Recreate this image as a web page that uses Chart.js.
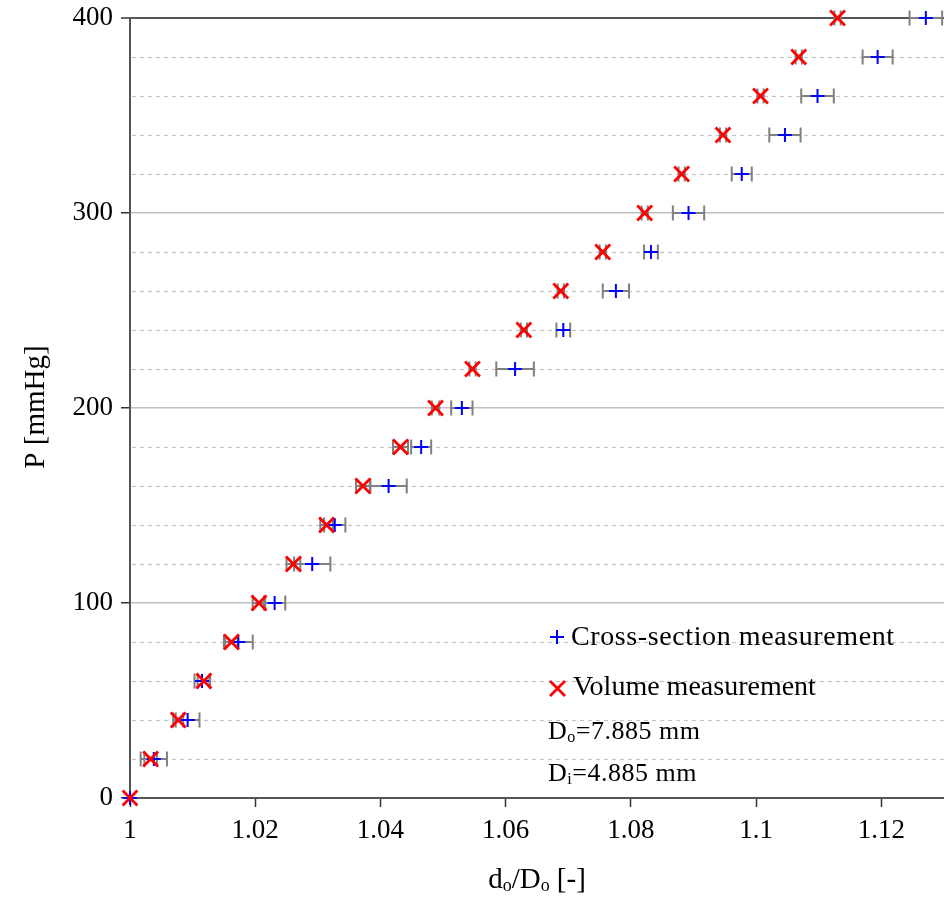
<!DOCTYPE html>
<html>
<head>
<meta charset="utf-8">
<script src="https://cdn.jsdelivr.net/npm/chart.js@4.4.1/dist/chart.umd.min.js"></script>
<style>
  html, body { margin: 0; padding: 0; background: #ffffff; }
  #wrap { width: 944px; height: 901px; }
</style>
</head>
<body>
<div id="wrap"><canvas id="c" width="944" height="901"></canvas></div>
<script>
// ---- data ----
const pressure = [0, 20, 40, 60, 80, 100, 120, 140, 160, 180, 200, 220, 240, 260, 280, 300, 320, 340, 360, 380, 400];
const crossSection = [1.0000, 1.0038, 1.0092, 1.0115, 1.0173, 1.0231, 1.0291, 1.0327, 1.0413, 1.0465, 1.0530,
                      1.0615, 1.0692, 1.0776, 1.0832, 1.0892, 1.0977, 1.1046, 1.1098, 1.1194, 1.1271];
const crossSectionErr = [0, 0.0021, 0.0019, 0.0012, 0.0023, 0.0017, 0.0029, 0.0017, 0.0029, 0.0016, 0.0017,
                         0.0030, 0.0011, 0.0021, 0.0011, 0.0025, 0.0016, 0.0025, 0.0026, 0.0024, 0.0026];
const volume = [1.0000, 1.0033, 1.0077, 1.0118, 1.0162, 1.0206, 1.0261, 1.0314, 1.0372, 1.0432, 1.0488,
                1.0547, 1.0629, 1.0688, 1.0755, 1.0822, 1.0881, 1.0947, 1.1007, 1.1068, 1.1130];
const volumeErr = [0, 0.0010, 0.0008, 0.0010, 0.0010, 0.0010, 0.0011, 0.0010, 0.0011, 0.0012, 0.0006,
                   0.0005, 0.0005, 0.0005, 0.0005, 0.0005, 0.0005, 0.0005, 0.0005, 0.0005, 0.0005];
const xTickStep = 0.02;
const yMajorTicks = [0, 100, 200, 300, 400];
const yMinorTicks = [20, 40, 60, 80, 120, 140, 160, 180, 220, 240, 260, 280, 320, 340, 360, 380];
const legendLabels = ['Cross-section measurement', 'Volume measurement'];
const noteLines = [
  [{t: 'D'}, {t: 'o', sub: true}, {t: '=7.885 mm'}],
  [{t: 'D'}, {t: 'i', sub: true}, {t: '=4.885 mm'}]
];
const xTitle = [{t: 'd'}, {t: 'o', sub: true}, {t: '/D'}, {t: 'o', sub: true}, {t: ' [-]'}];
const yTitle = 'P [mmHg]';

const FONT = "'Liberation Serif', 'Times New Roman', serif";
const BLUE = '#0000ff';
const RED = '#ff0000';
const GREY = '#808080';

function richWidth(ctx, parts, size) {
  let w = 0;
  for (const p of parts) {
    ctx.font = (p.sub ? size * 0.62 : size) + 'px ' + FONT;
    w += ctx.measureText(p.t).width;
  }
  return w;
}
function drawRich(ctx, parts, x, y, size) {
  let cx = x;
  ctx.textAlign = 'left';
  ctx.textBaseline = 'alphabetic';
  for (const p of parts) {
    ctx.font = (p.sub ? size * 0.62 : size) + 'px ' + FONT;
    ctx.fillText(p.t, cx, p.sub ? y + size * 0.12 : y);
    cx += ctx.measureText(p.t).width;
  }
}

const decorPlugin = {
  id: 'decor',
  beforeDatasetsDraw(chart) {
    const ctx = chart.ctx;
    const xs = chart.scales.x, ys = chart.scales.y;
    const area = chart.chartArea;
    // minor dashed grid lines
    ctx.save();
    ctx.strokeStyle = '#c4c4c4';
    ctx.lineWidth = 1.2;
    ctx.setLineDash([4, 4]);
    for (const v of yMinorTicks) {
      const py = Math.round(ys.getPixelForValue(v)) + 0.5;
      ctx.beginPath();
      ctx.moveTo(area.left + 2, py);
      ctx.lineTo(area.right, py);
      ctx.stroke();
    }
    ctx.restore();
    // error bars
    ctx.save();
    ctx.strokeStyle = GREY;
    ctx.lineWidth = 2;
    chart.data.datasets.forEach(ds => {
      ds.data.forEach((pt, i) => {
        const e = ds.errors[i];
        if (!e) return;
        const x1 = xs.getPixelForValue(pt.x - e);
        const x2 = xs.getPixelForValue(pt.x + e);
        const py = ys.getPixelForValue(pt.y);
        ctx.beginPath();
        ctx.moveTo(x1, py); ctx.lineTo(x2, py);
        ctx.moveTo(x1, py - 7.5); ctx.lineTo(x1, py + 7.5);
        ctx.moveTo(x2, py - 7.5); ctx.lineTo(x2, py + 7.5);
        ctx.stroke();
      });
    });
    ctx.restore();
  },
  afterDraw(chart) {
    const ctx = chart.ctx;
    ctx.save();
    ctx.fillStyle = '#000';
    // legend
    ctx.lineWidth = 2;
    ctx.strokeStyle = BLUE;
    ctx.beginPath();
    ctx.moveTo(550, 637); ctx.lineTo(564, 637);
    ctx.moveTo(557, 630); ctx.lineTo(557, 644);
    ctx.stroke();
    ctx.lineWidth = 2.8;
    ctx.strokeStyle = RED;
    ctx.beginPath();
    ctx.moveTo(550, 681); ctx.lineTo(565, 696);
    ctx.moveTo(565, 681); ctx.lineTo(550, 696);
    ctx.stroke();
    ctx.font = '28px ' + FONT;
    ctx.textAlign = 'left';
    ctx.textBaseline = 'alphabetic';
    ctx.letterSpacing = '0.6px';
    ctx.fillText(legendLabels[0], 571, 645);
    ctx.letterSpacing = '0px';
    ctx.fillText(legendLabels[1], 573, 695);
    ctx.letterSpacing = '0.5px';
    drawRich(ctx, noteLines[0], 548, 739, 26);
    drawRich(ctx, noteLines[1], 548, 781, 26);
    ctx.letterSpacing = '0px';
    // axis titles
    const tw = richWidth(ctx, xTitle, 29);
    drawRich(ctx, xTitle, 537 - tw / 2, 888, 29);
    ctx.translate(44, 407);
    ctx.rotate(-Math.PI / 2);
    ctx.font = '29px ' + FONT;
    ctx.textAlign = 'center';
    ctx.fillText(yTitle, 0, 0);
    ctx.restore();
  }
};

new Chart(document.getElementById('c'), {
  type: 'scatter',
  data: {
    datasets: [
      {
        label: legendLabels[1],
        data: pressure.map((p, i) => ({x: volume[i], y: p})),
        errors: volumeErr,
        pointStyle: 'crossRot',
        pointRadius: 10.5,
        pointHoverRadius: 10.5,
        pointBorderWidth: 2.8,
        borderColor: RED,
        backgroundColor: RED,
        clip: false,
        order: 0
      },
      {
        label: legendLabels[0],
        data: pressure.map((p, i) => ({x: crossSection[i], y: p})),
        errors: crossSectionErr,
        pointStyle: 'cross',
        pointRadius: 7,
        pointHoverRadius: 7,
        pointBorderWidth: 2,
        borderColor: BLUE,
        backgroundColor: BLUE,
        clip: false,
        order: 1
      }
    ]
  },
  options: {
    responsive: false,
    animation: false,
    devicePixelRatio: 1,
    layout: { autoPadding: false, padding: { top: 18, right: 0, left: 0, bottom: 0 } },
    plugins: { legend: { display: false }, tooltip: { enabled: false } },
    scales: {
      x: {
        type: 'linear',
        min: 1,
        max: 1.13,
        afterFit(s) { s.height = 103; s.paddingLeft = 0; s.paddingRight = 0; },
        ticks: {
          stepSize: xTickStep,
          includeBounds: false,
          autoSkip: false,
          maxRotation: 0,
          color: '#000',
          padding: 8,
          font: { family: FONT, size: 27 },
          callback: v => String(+Number(v).toFixed(2))
        },
        grid: { drawOnChartArea: false, drawTicks: true, tickLength: 9, tickColor: '#333', tickWidth: 1.5 },
        border: { color: '#555', width: 2 }
      },
      y: {
        min: 0,
        max: 400,
        afterFit(s) { s.width = 130; s.paddingTop = 0; s.paddingBottom = 0; },
        afterBuildTicks(s) { s.ticks = yMajorTicks.map(v => ({value: v})); },
        ticks: {
          color: '#000',
          padding: 8,
          font: { family: FONT, size: 27 },
          callback: v => String(v)
        },
        grid: {
          color: c => c.tick && c.tick.value === 400 ? '#555' : (c.tick && c.tick.value === 0 ? 'rgba(0,0,0,0)' : '#c0c0c0'),
          lineWidth: c => c.tick && c.tick.value === 400 ? 2 : 1.5,
          drawTicks: true,
          tickLength: 9,
          tickColor: '#333',
          tickWidth: 1.5
        },
        border: { color: '#555', width: 2 }
      }
    }
  },
  plugins: [decorPlugin]
});
</script>
</body>
</html>
